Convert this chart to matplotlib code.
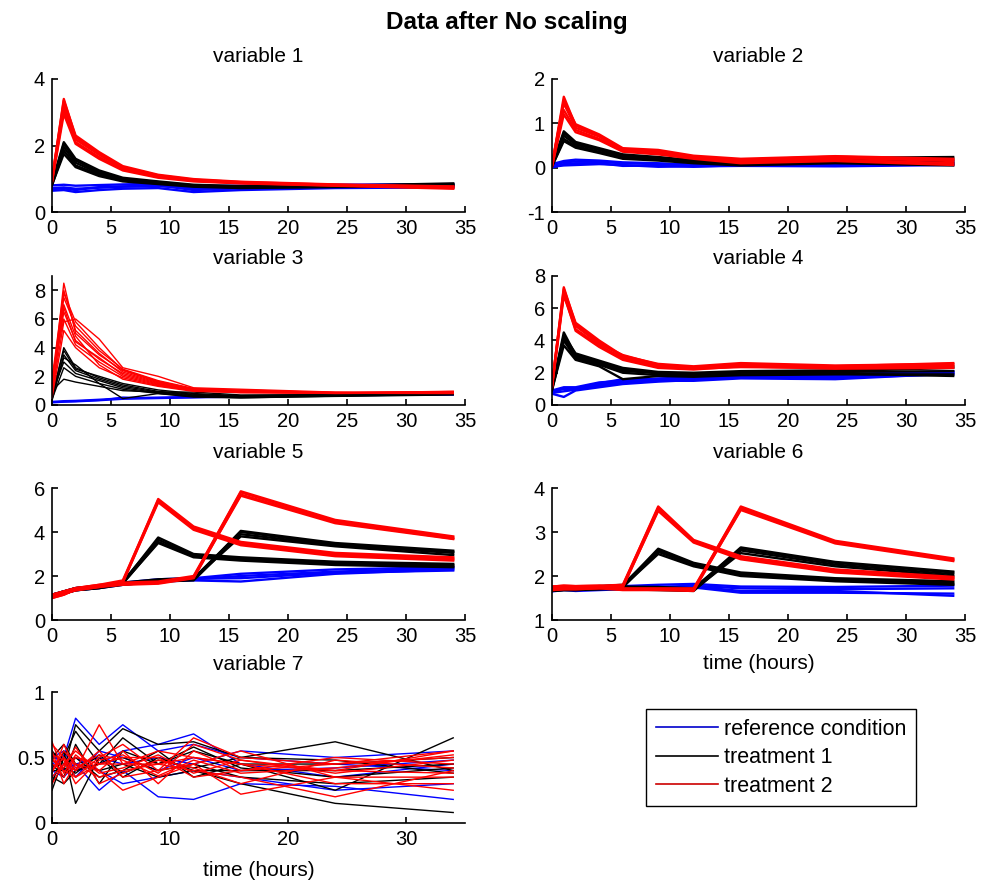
import matplotlib
matplotlib.use("Agg")
import matplotlib.pyplot as plt
from matplotlib.lines import Line2D

plt.rcParams['font.family'] = ['Liberation Sans', 'DejaVu Sans']

# sampling times (hours)
t = [0, 1, 2, 4, 6, 9, 12, 16, 24, 34]

# ---- variable 1 ----
v1_ref = [
    [0.72, 0.74, 0.70, 0.73, 0.76, 0.78, 0.72, 0.74, 0.78, 0.80],
    [0.64, 0.66, 0.60, 0.66, 0.70, 0.72, 0.60, 0.66, 0.72, 0.74],
    [0.80, 0.82, 0.79, 0.81, 0.83, 0.85, 0.78, 0.79, 0.82, 0.84],
    [0.69, 0.71, 0.66, 0.75, 0.77, 0.80, 0.66, 0.71, 0.76, 0.74],
]
v1_t1 = [
    [0.85, 2.05, 1.55, 1.20, 1.00, 0.90, 0.80, 0.76, 0.78, 0.84],
    [0.80, 1.85, 1.40, 1.12, 0.95, 0.86, 0.78, 0.74, 0.76, 0.80],
    [0.90, 1.95, 1.48, 1.16, 0.98, 0.88, 0.79, 0.75, 0.77, 0.82],
    [0.82, 1.75, 1.35, 1.08, 0.92, 0.84, 0.76, 0.72, 0.75, 0.78],
    [0.88, 2.10, 1.60, 1.25, 1.03, 0.92, 0.82, 0.78, 0.79, 0.86],
]
v1_t2 = [
    [0.95, 3.40, 2.25, 1.75, 1.35, 1.10, 0.97, 0.90, 0.82, 0.74],
    [0.90, 3.10, 2.10, 1.65, 1.28, 1.06, 0.94, 0.87, 0.80, 0.72],
    [0.98, 3.25, 2.18, 1.72, 1.32, 1.08, 0.96, 0.88, 0.81, 0.76],
    [0.92, 2.95, 2.05, 1.60, 1.25, 1.03, 0.92, 0.86, 0.79, 0.70],
    [1.00, 3.35, 2.30, 1.80, 1.38, 1.12, 0.99, 0.91, 0.83, 0.77],
]

# ---- variable 2 ----
v2_ref = [
    [0.05, 0.12, 0.14, 0.13, 0.10, 0.08, 0.05, 0.08, 0.07, 0.10],
    [0.02, 0.05, 0.06, 0.08, 0.06, 0.02, 0.03, 0.04, 0.03, 0.06],
    [0.08, 0.15, 0.18, 0.16, 0.12, 0.10, 0.07, 0.12, 0.10, 0.14],
    [0.00, 0.08, 0.10, 0.10, 0.04, 0.05, 0.02, 0.06, 0.05, 0.08],
]
v2_t1 = [
    [0.05, 0.78, 0.55, 0.42, 0.28, 0.22, 0.15, 0.12, 0.18, 0.20],
    [0.02, 0.65, 0.48, 0.36, 0.22, 0.18, 0.12, 0.08, 0.12, 0.10],
    [0.08, 0.72, 0.52, 0.40, 0.25, 0.20, 0.14, 0.15, 0.20, 0.15],
    [0.03, 0.60, 0.45, 0.33, 0.20, 0.16, 0.10, 0.05, 0.10, 0.05],
    [0.06, 0.82, 0.58, 0.44, 0.30, 0.24, 0.17, 0.18, 0.22, 0.24],
]
v2_t2 = [
    [0.05, 1.60, 0.95, 0.72, 0.42, 0.38, 0.25, 0.15, 0.22, 0.15],
    [0.02, 1.30, 0.85, 0.65, 0.38, 0.32, 0.22, 0.12, 0.18, 0.10],
    [0.08, 1.45, 0.90, 0.70, 0.40, 0.35, 0.24, 0.18, 0.25, 0.18],
    [0.03, 1.20, 0.80, 0.62, 0.36, 0.30, 0.20, 0.10, 0.15, 0.06],
    [0.06, 1.52, 0.98, 0.75, 0.44, 0.40, 0.27, 0.20, 0.26, 0.20],
]

# ---- variable 3 ----
v3_ref = [
    [0.20, 0.25, 0.28, 0.35, 0.45, 0.50, 0.55, 0.60, 0.70, 0.75],
    [0.15, 0.20, 0.22, 0.30, 0.40, 0.45, 0.50, 0.55, 0.65, 0.70],
    [0.25, 0.30, 0.32, 0.40, 0.50, 0.55, 0.60, 0.62, 0.72, 0.80],
    [0.18, 0.22, 0.25, 0.32, 0.55, 0.48, 0.52, 0.58, 0.68, 0.72],
]
v3_t1 = [
    [0.50, 4.00, 2.60, 1.90, 1.40, 0.95, 0.75, 0.60, 0.70, 0.85],
    [0.30, 3.50, 2.40, 1.80, 1.30, 0.90, 0.70, 0.55, 0.65, 0.80],
    [0.80, 3.00, 2.20, 1.70, 1.20, 0.85, 0.65, 0.60, 0.68, 0.90],
    [0.40, 2.60, 2.00, 1.50, 1.10, 0.80, 0.60, 0.50, 0.62, 0.75],
    [1.00, 1.80, 1.60, 1.30, 1.00, 0.90, 0.90, 0.70, 0.72, 0.88],
    [0.60, 3.30, 2.80, 1.50, 0.45, 0.80, 0.55, 0.50, 0.60, 0.70],
    [0.70, 3.80, 2.50, 2.00, 1.50, 1.05, 0.80, 0.65, 0.74, 0.92],
]
v3_t2 = [
    [1.00, 8.50, 5.00, 3.50, 2.40, 1.60, 1.10, 0.95, 0.85, 0.90],
    [0.60, 7.50, 5.50, 3.80, 2.50, 1.70, 1.15, 1.00, 0.88, 0.85],
    [1.50, 6.50, 4.50, 3.20, 2.20, 1.50, 1.05, 0.90, 0.82, 0.92],
    [0.80, 5.80, 6.00, 4.60, 2.60, 2.00, 1.20, 1.10, 0.90, 0.88],
    [2.00, 6.00, 4.20, 3.00, 2.00, 1.40, 1.00, 0.92, 0.80, 0.86],
    [1.20, 7.00, 4.80, 2.80, 1.80, 1.30, 0.95, 0.88, 0.84, 0.94],
    [0.50, 5.20, 4.00, 2.60, 1.90, 1.35, 1.00, 0.85, 0.82, 0.80],
    [1.80, 8.00, 5.20, 3.60, 2.30, 1.55, 1.10, 1.05, 0.86, 0.90],
    [0.90, 6.80, 4.40, 3.30, 2.10, 1.45, 1.05, 0.95, 0.84, 0.96],
    [1.40, 7.80, 5.80, 4.00, 2.45, 1.65, 1.12, 0.98, 0.87, 0.82],
]

# ---- variable 4 ----
v4_ref = [
    [0.80, 1.00, 1.00, 1.30, 1.40, 1.55, 1.60, 1.75, 1.80, 2.00],
    [0.70, 0.50, 0.90, 1.10, 1.30, 1.45, 1.55, 1.70, 1.70, 1.90],
    [0.90, 1.10, 1.10, 1.40, 1.50, 1.65, 1.70, 1.80, 1.85, 2.05],
    [0.75, 0.85, 0.95, 1.20, 1.35, 1.50, 1.50, 1.65, 1.60, 1.95],
    [0.85, 1.05, 1.05, 1.35, 1.60, 1.60, 1.65, 1.75, 1.90, 2.10],
]
v4_t1 = [
    [1.00, 4.50, 3.10, 2.70, 2.20, 1.95, 1.90, 2.00, 2.05, 2.10],
    [0.90, 4.00, 2.90, 2.50, 2.00, 1.85, 1.80, 1.90, 1.95, 1.80],
    [1.10, 4.20, 3.00, 2.60, 2.10, 2.00, 1.95, 2.05, 2.10, 2.30],
    [0.95, 3.70, 2.80, 2.40, 1.60, 1.80, 1.75, 1.85, 1.90, 1.90],
    [1.05, 4.30, 3.20, 2.75, 2.30, 2.05, 2.00, 2.10, 2.15, 2.40],
]
v4_t2 = [
    [1.20, 7.30, 5.00, 3.90, 3.00, 2.45, 2.30, 2.45, 2.35, 2.50],
    [1.10, 6.80, 4.70, 3.70, 2.90, 2.35, 2.25, 2.35, 2.30, 2.40],
    [1.30, 7.00, 4.90, 3.80, 3.10, 2.50, 2.35, 2.55, 2.40, 2.60],
    [1.15, 6.90, 4.60, 3.60, 2.80, 2.30, 2.20, 2.40, 2.25, 2.30],
    [1.25, 7.20, 5.10, 4.00, 3.05, 2.55, 2.40, 2.60, 2.45, 2.55],
]

# ---- variable 5 (treatments: first half given at 6 h, second half at 12 h) ----
v5_ref = [
    [1.10, 1.25, 1.40, 1.50, 1.65, 1.80, 1.85, 2.00, 2.20, 2.35],
    [1.05, 1.20, 1.35, 1.45, 1.60, 1.75, 1.80, 1.75, 2.10, 2.30],
    [1.15, 1.30, 1.45, 1.55, 1.70, 1.85, 1.90, 2.10, 2.30, 2.40],
    [1.00, 1.25, 1.38, 1.50, 1.62, 1.78, 1.88, 1.90, 2.15, 2.25],
]
v5_t1 = [
    [1.10, 1.25, 1.40, 1.50, 1.70, 3.75, 3.00, 2.85, 2.65, 2.55],
    [1.05, 1.20, 1.35, 1.45, 1.65, 3.55, 2.90, 2.75, 2.55, 2.45],
    [1.15, 1.30, 1.45, 1.55, 1.75, 3.65, 2.95, 2.80, 2.60, 2.50],
    [1.10, 1.22, 1.40, 1.50, 1.68, 3.50, 2.85, 2.70, 2.50, 2.40],
    [1.10, 1.25, 1.40, 1.50, 1.65, 1.80, 1.85, 4.05, 3.50, 3.15],
    [1.05, 1.20, 1.35, 1.45, 1.60, 1.75, 1.80, 3.90, 3.40, 3.05],
    [1.15, 1.30, 1.45, 1.55, 1.70, 1.85, 1.90, 4.00, 3.45, 3.10],
    [1.10, 1.25, 1.38, 1.50, 1.62, 1.78, 1.88, 3.80, 3.35, 2.95],
]
v5_t2 = [
    [1.10, 1.25, 1.40, 1.55, 1.75, 5.50, 4.25, 3.55, 3.05, 2.85],
    [1.05, 1.20, 1.35, 1.50, 1.70, 5.40, 4.15, 3.45, 2.95, 2.75],
    [1.15, 1.30, 1.45, 1.60, 1.80, 5.45, 4.20, 3.50, 3.00, 2.80],
    [1.00, 1.15, 1.40, 1.55, 1.72, 5.35, 4.10, 3.40, 2.90, 2.70],
    [1.10, 1.25, 1.40, 1.55, 1.65, 1.70, 1.95, 5.85, 4.55, 3.80],
    [1.05, 1.20, 1.35, 1.50, 1.60, 1.65, 1.90, 5.70, 4.45, 3.70],
    [1.15, 1.30, 1.45, 1.60, 1.70, 1.75, 2.00, 5.80, 4.50, 3.75],
    [1.00, 1.15, 1.38, 1.52, 1.62, 1.68, 1.92, 5.65, 4.40, 3.68],
]

# ---- variable 6 ----
v6_ref = [
    [1.70, 1.72, 1.70, 1.72, 1.74, 1.75, 1.78, 1.72, 1.70, 1.72],
    [1.65, 1.68, 1.66, 1.68, 1.70, 1.70, 1.74, 1.62, 1.62, 1.60],
    [1.75, 1.76, 1.74, 1.76, 1.77, 1.80, 1.82, 1.76, 1.75, 1.78],
    [1.68, 1.70, 1.68, 1.70, 1.72, 1.72, 1.76, 1.66, 1.66, 1.55],
]
v6_t1 = [
    [1.70, 1.72, 1.72, 1.74, 1.78, 2.62, 2.30, 2.08, 1.95, 1.88],
    [1.66, 1.68, 1.68, 1.70, 1.74, 2.55, 2.25, 2.02, 1.90, 1.82],
    [1.74, 1.76, 1.75, 1.77, 1.80, 2.58, 2.28, 2.05, 1.92, 1.85],
    [1.68, 1.70, 1.70, 1.72, 1.76, 2.50, 2.22, 2.00, 1.88, 1.80],
    [1.70, 1.72, 1.72, 1.74, 1.74, 1.72, 1.70, 2.65, 2.32, 2.10],
    [1.66, 1.68, 1.68, 1.70, 1.70, 1.68, 1.66, 2.58, 2.26, 2.04],
    [1.74, 1.76, 1.75, 1.77, 1.76, 1.75, 1.72, 2.62, 2.30, 2.08],
    [1.68, 1.70, 1.70, 1.72, 1.72, 1.70, 1.68, 2.52, 2.22, 2.00],
]
v6_t2 = [
    [1.72, 1.74, 1.74, 1.76, 1.78, 3.58, 2.82, 2.45, 2.15, 1.98],
    [1.68, 1.70, 1.70, 1.72, 1.74, 3.50, 2.78, 2.40, 2.10, 1.94],
    [1.76, 1.78, 1.77, 1.78, 1.80, 3.55, 2.80, 2.42, 2.12, 1.96],
    [1.70, 1.72, 1.72, 1.74, 1.75, 3.48, 2.76, 2.38, 2.08, 1.92],
    [1.72, 1.74, 1.74, 1.76, 1.70, 1.70, 1.70, 3.58, 2.80, 2.40],
    [1.68, 1.70, 1.70, 1.72, 1.68, 1.68, 1.66, 3.52, 2.76, 2.36],
    [1.76, 1.78, 1.77, 1.78, 1.72, 1.72, 1.72, 3.55, 2.78, 2.38],
    [1.70, 1.72, 1.72, 1.74, 1.69, 1.69, 1.68, 3.50, 2.74, 2.34],
]

# ---- variable 7 ----
v7_ref = [
    [0.45, 0.50, 0.80, 0.60, 0.75, 0.55, 0.60, 0.50, 0.45, 0.40],
    [0.40, 0.35, 0.45, 0.25, 0.40, 0.20, 0.18, 0.30, 0.28, 0.18],
    [0.50, 0.55, 0.40, 0.45, 0.55, 0.60, 0.68, 0.45, 0.35, 0.45],
    [0.35, 0.45, 0.50, 0.40, 0.30, 0.35, 0.40, 0.35, 0.25, 0.30],
    [0.55, 0.40, 0.45, 0.50, 0.45, 0.50, 0.45, 0.55, 0.50, 0.55],
    [0.42, 0.52, 0.35, 0.55, 0.50, 0.40, 0.50, 0.40, 0.42, 0.48],
]
v7_t1 = [
    [0.30, 0.55, 0.15, 0.50, 0.35, 0.50, 0.40, 0.30, 0.15, 0.08],
    [0.40, 0.40, 0.75, 0.55, 0.72, 0.60, 0.62, 0.50, 0.62, 0.40],
    [0.45, 0.35, 0.60, 0.30, 0.55, 0.45, 0.55, 0.45, 0.25, 0.65],
    [0.50, 0.60, 0.45, 0.40, 0.45, 0.35, 0.40, 0.40, 0.40, 0.45],
    [0.35, 0.30, 0.40, 0.45, 0.50, 0.40, 0.45, 0.35, 0.30, 0.35],
    [0.55, 0.45, 0.50, 0.35, 0.40, 0.55, 0.35, 0.45, 0.45, 0.50],
    [0.25, 0.50, 0.70, 0.45, 0.65, 0.45, 0.58, 0.42, 0.35, 0.42],
    [0.48, 0.42, 0.38, 0.52, 0.38, 0.48, 0.42, 0.50, 0.48, 0.38],
]
v7_t2 = [
    [0.60, 0.50, 0.40, 0.75, 0.45, 0.55, 0.50, 0.45, 0.40, 0.55],
    [0.35, 0.45, 0.55, 0.40, 0.25, 0.35, 0.45, 0.22, 0.35, 0.25],
    [0.45, 0.40, 0.35, 0.50, 0.60, 0.40, 0.65, 0.50, 0.45, 0.50],
    [0.40, 0.55, 0.45, 0.35, 0.40, 0.45, 0.40, 0.35, 0.20, 0.40],
    [0.50, 0.35, 0.50, 0.45, 0.50, 0.50, 0.35, 0.40, 0.50, 0.45],
    [0.30, 0.45, 0.40, 0.55, 0.35, 0.40, 0.45, 0.55, 0.35, 0.35],
    [0.55, 0.30, 0.45, 0.40, 0.55, 0.30, 0.55, 0.40, 0.45, 0.55],
    [0.40, 0.50, 0.35, 0.45, 0.45, 0.45, 0.50, 0.45, 0.30, 0.30],
    [0.62, 0.38, 0.52, 0.38, 0.42, 0.52, 0.38, 0.48, 0.38, 0.48],
    [0.38, 0.60, 0.42, 0.52, 0.48, 0.36, 0.48, 0.38, 0.42, 0.52],
    [0.48, 0.42, 0.58, 0.30, 0.38, 0.48, 0.42, 0.30, 0.48, 0.42],
    [0.52, 0.48, 0.30, 0.48, 0.52, 0.38, 0.60, 0.48, 0.40, 0.38],
]

group_labels = ['reference condition', 'treatment 1', 'treatment 2']
group_colors = ['#0000ff', '#000000', '#ff0000']

W, H = 986, 882
fig = plt.figure(figsize=(W / 100, H / 100), dpi=100)

# panel boxes in pixels
cols = [(52, 465), (552, 965)]
rows = [(79, 212), (276, 405), (488, 620), (692, 823)]
# title centre y in pixels for each panel
title_y = [57, 57, 259, 259, 452, 452, 665]

panels = [
    ('variable 1', v1_ref, v1_t1, v1_t2, (0, 4), [0, 2, 4]),
    ('variable 2', v2_ref, v2_t1, v2_t2, (-1, 2), [-1, 0, 1, 2]),
    ('variable 3', v3_ref, v3_t1, v3_t2, (0, 9), [0, 2, 4, 6, 8]),
    ('variable 4', v4_ref, v4_t1, v4_t2, (0, 8), [0, 2, 4, 6, 8]),
    ('variable 5', v5_ref, v5_t1, v5_t2, (0, 6), [0, 2, 4, 6]),
    ('variable 6', v6_ref, v6_t1, v6_t2, (1, 4), [1, 2, 3, 4]),
    ('variable 7', v7_ref, v7_t1, v7_t2, (0, 1), [0, 0.5, 1]),
]

fs = 15
for i, (name, ref, t1, t2, ylim, yticks) in enumerate(panels):
    x0, x1 = cols[i % 2]
    y0, y1 = rows[i // 2]
    ax = fig.add_axes([x0 / W, 1 - y1 / H, (x1 - x0) / W, (y1 - y0) / H])
    lw = 1.0 if i in (2, 6) else 1.7
    for lines, c in zip([ref, t1, t2], group_colors):
        for y in lines:
            ax.plot(t, y, color=c, lw=lw)
    ax.set_xlim(0, 35)
    ax.set_ylim(*ylim)
    ax.set_yticks(yticks)
    ax.set_yticklabels([f'{v:g}' for v in yticks])
    if i == 6:
        ax.set_xticks([0, 10, 20, 30])
    else:
        ax.set_xticks([0, 5, 10, 15, 20, 25, 30, 35])
    for s in ['top', 'right']:
        ax.spines[s].set_visible(False)
    for s in ['left', 'bottom']:
        ax.spines[s].set_linewidth(1.2)
    ax.tick_params(direction='in', length=4, width=1.2, labelsize=14.5)
    ax.tick_params(axis='x', pad=5)
    ax.tick_params(axis='y', pad=5)
    cy = (title_y[i] - y0) / (y1 - y0)
    ax.text(0.5, 1 - cy, name, transform=ax.transAxes, ha='center', va='center', fontsize=fs)
    if i == 5:
        ax.set_xlabel('time (hours)', fontsize=fs, labelpad=6)
    if i == 6:
        ax.set_xlabel('time (hours)', fontsize=fs, labelpad=9)

fig.text(507 / W, 1 - 22 / H, 'Data after No scaling', ha='center', va='center',
         fontsize=17.5, fontweight='bold')

handles = [Line2D([], [], color=c, lw=1.2) for c in ['#0000cc', '#000000', '#cc0000']]
fig.legend(handles, group_labels, loc='upper left', bbox_to_anchor=(646 / W, 1 - 709 / H),
           borderaxespad=0, fontsize=15.5, frameon=True, fancybox=False, framealpha=1,
           edgecolor='black', handlelength=2.9, handletextpad=0.25, labelspacing=0.35,
           borderpad=0.45)

fig.savefig('out.png', dpi=100)
